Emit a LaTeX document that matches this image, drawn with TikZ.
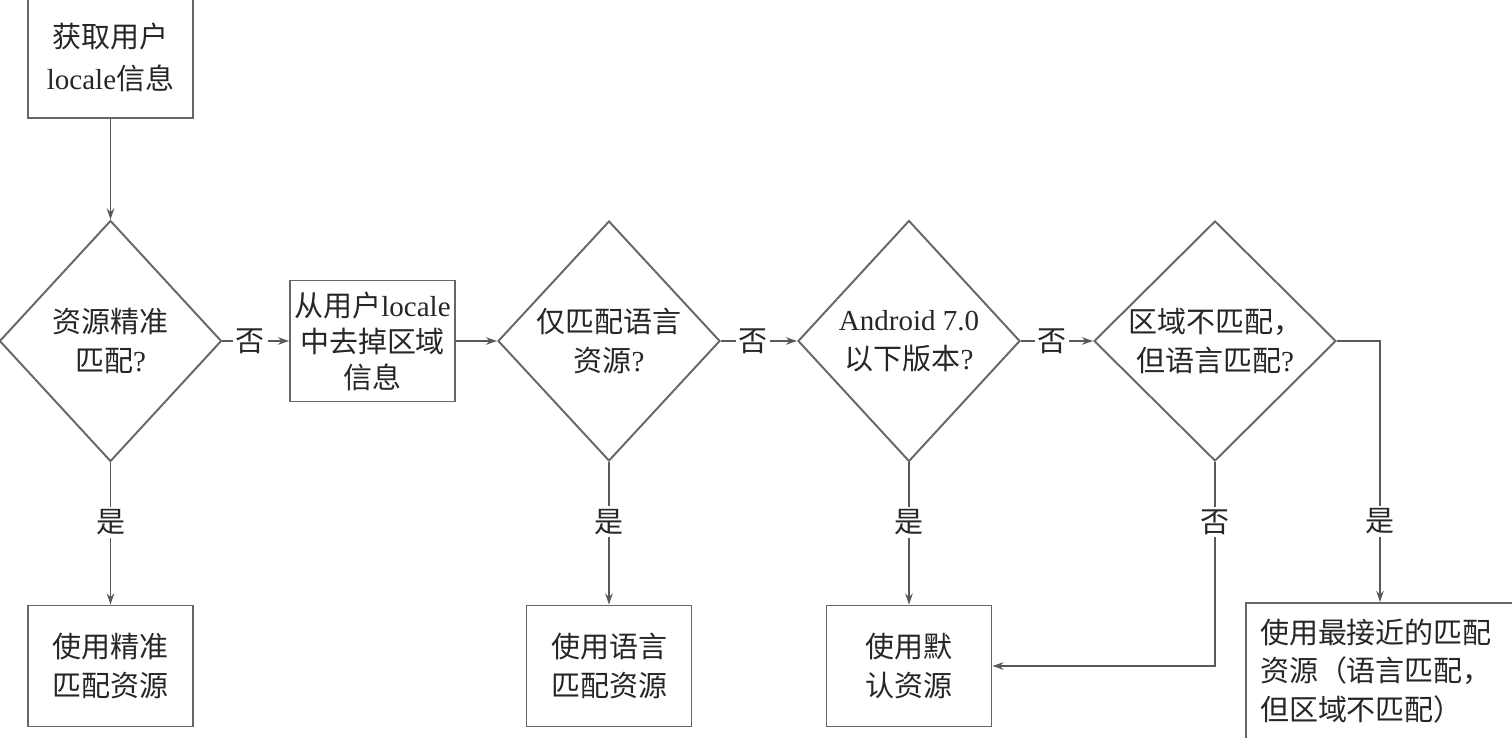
\documentclass[tikz,border=0pt]{standalone}
\usepackage{fontspec}
\setmainfont{Liberation Serif}
\newfontfamily\cjk{Noto Sans CJK SC}
\newcommand{\zh}[1]{{\cjk #1}}
\newcommand{\flowfont}{\fontsize{16.5}{22}\selectfont}
\usetikzlibrary{arrows.meta, shapes.geometric}

\begin{document}
\begin{tikzpicture}[>={Stealth[length=2.2mm, width=1.5mm]}]

    % Define styles
    \tikzset{
        stepbox/.style={draw=black!60, line width=1.1pt, minimum width=3.3cm, minimum height=2.42cm, inner xsep=1pt, align=center, text=black!85, font=\flowfont},
        decision/.style={diamond, draw=black!60, line width=1.1pt, inner sep=0pt, minimum width=4.44cm, minimum height=4.82cm, align=center, text=black!85, font=\flowfont},
        flow/.style={->, draw=black!65, line width=0.8pt},
        answer/.style={fill=white, inner sep=1.5pt, text=black!85, font=\flowfont}
    }

    % 0. Frame
    \clip (0,0) rectangle (30.24,14.74);

    % 1. Top row: start and decisions
    \node[stepbox, font=\fontsize{16.5}{23.5}\selectfont] (getloc) at (2.21,13.59) {\zh{获取用户}\\locale\zh{信息}};
    \node[decision] (exact) at (2.21,7.92) {\zh{资源精准}\\\zh{匹配}?};
    \node[stepbox, font=\fontsize{16.5}{20.5}\selectfont] (strip) at (7.45,7.92) {\zh{从用户}locale\\\zh{中去掉区域}\\\zh{信息}};
    \node[decision, minimum height=4.8cm] (langonly) at (12.18,7.92) {\zh{仅匹配语言}\\\zh{资源}?};
    \node[decision] (oldver) at (18.18,7.92) {Android 7.0\\\zh{以下版本}?};
    \node[decision, minimum width=4.84cm, minimum height=4.8cm] (region) at (24.30,7.92) {\zh{区域不匹配，}\\\zh{但语言匹配}?};

    % 2. Bottom row: results
    \node[stepbox] (useexact) at (2.21,1.42) {\zh{使用精准}\\\zh{匹配资源}};
    \node[stepbox] (uselang) at (12.18,1.42) {\zh{使用语言}\\\zh{匹配资源}};
    \node[stepbox] (usedefault) at (18.18,1.42) {\zh{使用默}\\\zh{认资源}};
    \node[stepbox, text width=4.8cm, align=left, minimum height=2.72cm, inner xsep=0.28cm] (useclosest) at (27.6,1.32)
        {\zh{使用最接近的匹配}\\\zh{资源（语言匹配，}\\\zh{但区域不匹配）}};

    % 3. "No" branches
    \draw[flow] (getloc) -- (exact);
    \draw[flow] (exact) -- node[answer, pos=0.42] {\zh{否}} (strip);
    \draw[flow] (strip) -- (langonly);
    \draw[flow] (langonly) -- node[answer, pos=0.42] {\zh{否}} (oldver);
    \draw[flow] (oldver) -- node[answer, pos=0.43] {\zh{否}} (region);
    \draw[flow] (region.south) |- node[answer, pos=0.147] {\zh{否}} (usedefault.east);

    % 4. "Yes" branches
    \draw[flow] (exact) -- node[answer, pos=0.42] {\zh{是}} (useexact);
    \draw[flow] (langonly) -- node[answer, pos=0.42] {\zh{是}} (uselang);
    \draw[flow] (oldver) -- node[answer, pos=0.42] {\zh{是}} (usedefault);
    \draw[flow] (region.east) -| node[answer, pos=0.845] {\zh{是}} (useclosest.north);

\end{tikzpicture}
\end{document}
